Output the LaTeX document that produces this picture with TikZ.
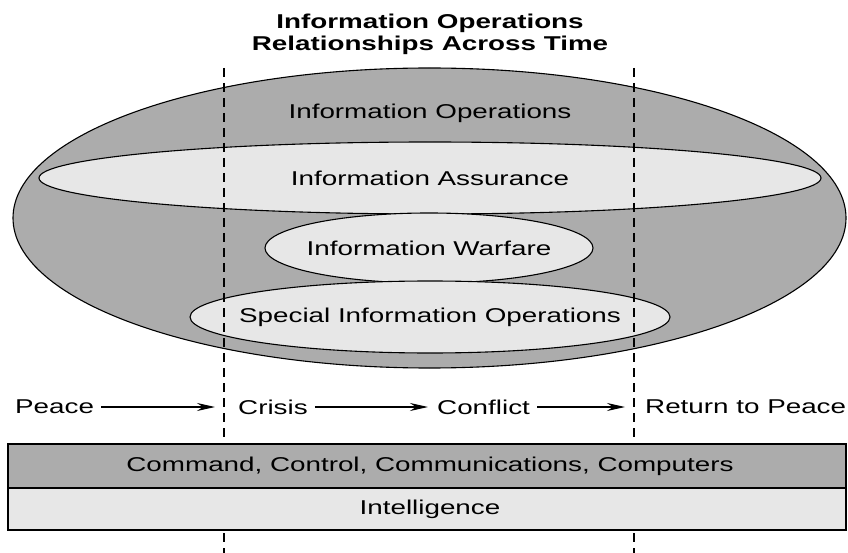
\documentclass[tikz,border=0pt]{standalone}
\usepackage{fontspec}
\setmainfont{Liberation Sans}[FakeStretch=1.39]
\usetikzlibrary{arrows.meta,shapes.geometric}

\definecolor{opsgray}{RGB}{172,172,172}
\definecolor{opslight}{RGB}{231,231,231}

\tikzset{
  blob/.style={ellipse, draw, line width=1.1pt, fill=opslight, inner sep=0pt},
  phase/.style={anchor=west, inner sep=2pt},
  timearrow/.style={-{Stealth[length=18pt,width=8pt,inset=6pt]}, line width=1.1pt},
  bar/.style={draw, line width=1.1pt, minimum width=838pt, inner sep=0pt},
  divider/.style={dash pattern=on 9pt off 6pt, line width=1.3pt},
}

\begin{document}
\begin{tikzpicture}[x=1pt, y=-1pt, font=\fontsize{20}{24}\selectfont]
  \useasboundingbox (0,0) rectangle (848,553);
  % title
  \node[font=\bfseries\fontsize{20}{22}\selectfont, align=center] (title) at (430,34)
    {Information Operations\\Relationships Across Time};
  % nested ellipses, labels set on top
  \node[blob, fill=opsgray, minimum width=833pt, minimum height=300pt] (io) at (429.5,218) {};
  \node[blob, minimum width=782pt, minimum height=72pt] (ia) at (430,178) {};
  \node[blob, minimum width=328pt, minimum height=70pt] (iw) at (429,248) {};
  \node[blob, minimum width=480pt, minimum height=72pt] (sio) at (430,317) {};
  \node (iolab) at (430,113) {Information Operations};
  \node (ialab) at (ia) {Information Assurance};
  \node (iwlab) at (iw) {Information Warfare};
  \node (siolab) at (sio) {Special Information Operations};
  % time dividers
  \foreach \x/\name in {224/crisisline, 634/peaceline} {
    \coordinate (\name top) at (\x,68);
    \coordinate (\name bot) at (\x,553);
    \draw[divider] (\name top) -- (\name bot);
  }
  % phases along the time line
  \node[phase] (peace) at (13,407) {Peace};
  \node[phase] (crisis) at (236,407) {Crisis};
  \node[phase] (conflict) at (435,407) {Conflict};
  \node[phase] (return) at (643,407) {Return to Peace};
  \foreach \a/\b/\gap in {peace/crisis/21, crisis/conflict/7, conflict/return/18}
    \draw[timearrow, shorten <=5pt, shorten >=\gap pt] (\a) -- (\b);
  % capability bars
  \node[bar, fill=opsgray, minimum height=44pt] (c4) at (427,466) {};
  \node (c4lab) at (430,466) {Command, Control, Communications, Computers};
  \node[bar, fill=opslight, minimum height=42pt] (intel) at (427,509) {};
  \node (intellab) at (430,509) {Intelligence};
\end{tikzpicture}
\end{document}
